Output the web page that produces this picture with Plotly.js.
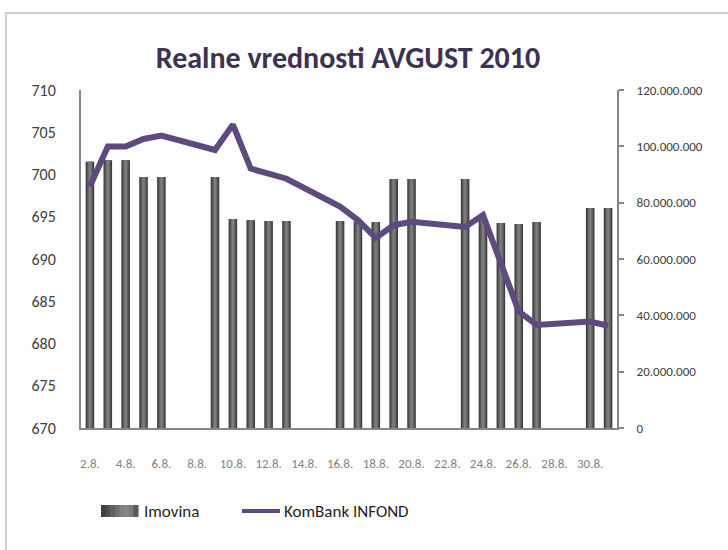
<!DOCTYPE html>
<html><head><meta charset="utf-8">
<script src="https://cdn.plot.ly/plotly-3.0.1.min.js"></script>
<style>
html,body{margin:0;padding:0;background:#fff;overflow:hidden}
#wrap{position:relative;width:728px;height:550px}
#chart{position:absolute;left:0;top:0;width:728px;height:550px}
#frame{position:absolute;left:5px;top:12px;width:760px;height:600px;border:2px solid #cfcfcf;box-sizing:border-box;pointer-events:none}
</style></head><body>
<div id="wrap"><div id="chart"></div><div id="frame"></div></div>
<script>
// ---- data ----
const days = ["2.8.","3.8.","4.8.","5.8.","6.8.","7.8.","8.8.","9.8.","10.8.","11.8.","12.8.","13.8.","14.8.","15.8.","16.8.","17.8.","18.8.","19.8.","20.8.","21.8.","22.8.","23.8.","24.8.","25.8.","26.8.","27.8.","28.8.","29.8.","30.8.","31.8."];
const xTickLabels = ["2.8.","4.8.","6.8.","8.8.","10.8.","12.8.","14.8.","16.8.","18.8.","20.8.","22.8.","24.8.","26.8.","28.8.","30.8."];
// Imovina (assets), right axis
const imovina = [94500000,95100000,95100000,89100000,89100000,null,null,89100000,74200000,73800000,73500000,73500000,null,null,73500000,73300000,73100000,88400000,88400000,null,null,88400000,74000000,72800000,72400000,73100000,null,null,78100000,78100000];
// KomBank INFOND, left axis
const infond = [698.6,703.3,703.3,704.2,704.6,null,null,702.9,705.9,700.7,700.1,699.5,null,null,696.2,694.6,692.5,694.0,694.4,null,null,693.8,695.2,689.7,683.8,682.2,null,null,682.6,682.1];
const leftTicks = [670,675,680,685,690,695,700,705,710];
const rightTicks = [0,20000000,40000000,60000000,80000000,100000000,120000000];
const seriesNames = ["Imovina","KomBank INFOND"];

// ---- styling ----
const FONT = "Carlito, Calibri, 'Noto Sans', sans-serif";
const L = 81, R = 617, T = 90, B = 428;
const px = x => (x - L) / (R - L);
const py = y => (B - y) / (B - T);

const barLayers = [
  {w:0.48, c:"#3c3c3c"},
  {w:0.36, c:"#545454"},
  {w:0.24, c:"#6a6a6a"},
  {w:0.11, c:"#7e7e7e"}
];
const traces = barLayers.map((b,i)=>({
  type:"bar", x:days, y:imovina, yaxis:"y", width:b.w,
  marker:{color:b.c, line:{width:0}}, name:seriesNames[0],
  showlegend:false, hoverinfo: i===0 ? "x+y+name" : "skip"
}));
traces.push({
  type:"scatter", mode:"lines", x:days, y:infond, yaxis:"y2",
  connectgaps:true, name:seriesNames[1], showlegend:false,
  line:{color:"#5e4a7e", width:6, shape:"linear"}
});

// legend (custom, to mimic the wide gradient swatch)
const legY = 511;
const shapes = [];
const swL = 101, swR = 138, swT = 505, swB = 517;
const swCols = ["#3e3e3e","#4c4c4c","#5e5e5e","#707070","#808080","#858585","#7a7a7a","#5a5a5a"];
swCols.forEach((c,i)=>{
  const a = swL + (swR-swL)*i/swCols.length, b = swL + (swR-swL)*(i+1)/swCols.length;
  shapes.push({type:"rect", xref:"paper", yref:"paper", x0:px(a), x1:px(b)+0.001, y0:py(swB), y1:py(swT), fillcolor:c, line:{width:0}, layer:"above"});
});
shapes.push({type:"line", xref:"paper", yref:"paper", x0:px(242), x1:px(280), y0:py(legY), y1:py(legY), line:{color:"#5e4a7e", width:4}});
const annotations = [
  {xref:"paper", yref:"paper", x:px(142), y:py(legY), xanchor:"left", yanchor:"middle", text:seriesNames[0], showarrow:false, font:{family:FONT, size:17, color:"#1e1e1e"}},
  {xref:"paper", yref:"paper", x:px(282), y:py(legY), xanchor:"left", yanchor:"middle", text:seriesNames[1], showarrow:false, font:{family:FONT, size:17, color:"#1e1e1e"}}
];

const layout = {
  width:728, height:550, autosize:false,
  margin:{l:L, r:728-R, t:T, b:550-B, pad:0},
  paper_bgcolor:"#ffffff", plot_bgcolor:"#ffffff",
  separators:",.",
  font:{family:FONT, color:"#404040"},
  title:{text:"<b>Realne vrednosti AVGUST 2010</b>", x:0.478, xanchor:"center", y:0.895, yanchor:"middle", font:{family:FONT, size:30, color:"#3f3151"}},
  barmode:"overlay",
  showlegend:false,
  xaxis:{type:"category", categoryorder:"array", categoryarray:days, range:[-0.5, days.length-0.5],
    tickmode:"array", tickvals:xTickLabels, ticktext:xTickLabels,
    showline:true, linecolor:"#878787", linewidth:2, ticks:"", showgrid:false, zeroline:false,
    tickfont:{family:FONT, size:13, color:"#7f7f7f"}, ticklabelstandoff:22, tickangle:0},
  yaxis:{side:"right", range:[0,120000000], tickmode:"array", tickvals:rightTicks, tickformat:",d",
    showline:true, linecolor:"#878787", linewidth:2, ticks:"outside", ticklen:5, tickcolor:"#878787", tickwidth:2,
    showgrid:false, zeroline:false, tickfont:{family:FONT, size:13, color:"#404040"}, ticklabelstandoff:10},
  yaxis2:{overlaying:"y", side:"left", range:[670,710], tickmode:"array", tickvals:leftTicks,
    showline:true, linecolor:"#878787", linewidth:2, ticks:"", showgrid:false, zeroline:false,
    tickfont:{family:FONT, size:16, color:"#404040"}, ticklabelstandoff:20},
  shapes:shapes,
  annotations:annotations
};
Plotly.newPlot("chart", traces, layout, {staticPlot:true, displayModeBar:false});
</script>
</body></html>
